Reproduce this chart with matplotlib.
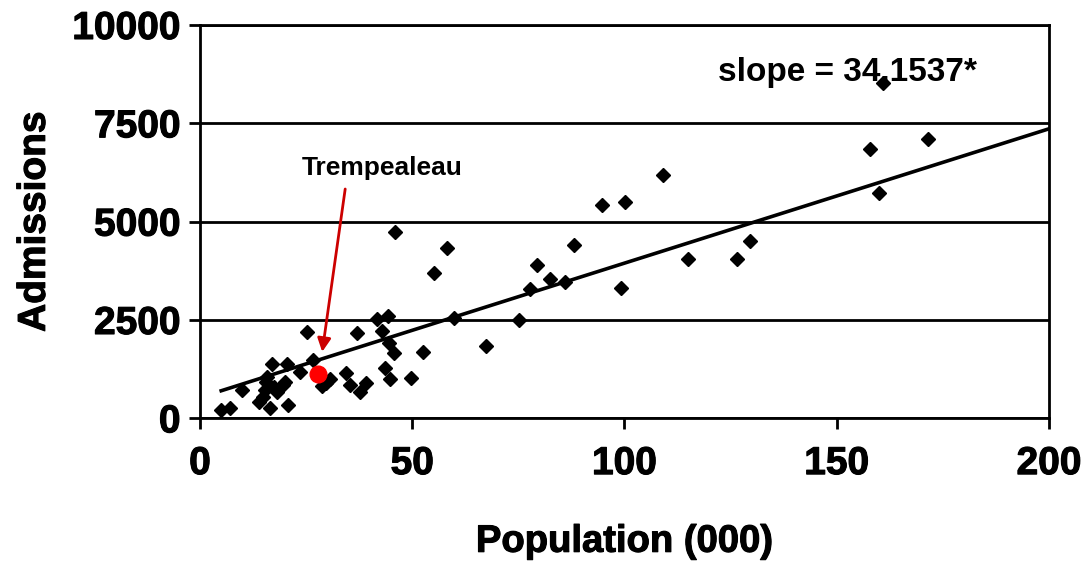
import matplotlib.pyplot as plt
import matplotlib.patheffects as pe
import numpy as np

plt.rcParams['font.family'] = ['Liberation Sans', 'DejaVu Sans']
plt.rcParams['font.weight'] = 'bold'

# county data (population in thousands, admissions)
population = [5.0, 7.1, 9.8, 13.8, 14.9, 15.2, 15.5, 15.8, 16.5, 16.9,
              17.5, 18.1, 19.6, 20.1, 20.5, 20.8, 23.6, 25.1, 26.7, 28.7,
              29.8, 30.6, 34.5, 35.3, 37.0, 37.8, 39.0, 41.7, 42.9, 43.7,
              44.3, 44.6, 44.7, 45.8, 45.9, 49.6, 52.6, 55.1, 58.3, 59.8,
              67.4, 75.2, 77.7, 79.4, 82.4, 86.1, 88.1, 94.7, 99.2, 100.2,
              109.0, 115.0, 126.5, 129.5, 157.9, 160.0, 161.0, 171.5]
admissions = [210, 270, 720, 420, 540, 720, 920, 1060, 254, 1380,
              800, 680, 850, 930, 1380, 340, 1185, 2185, 1483, 810,
              900, 1000, 1144, 850, 2178, 677, 906, 2517, 2225, 1271,
              2601, 1920, 992, 1670, 4730, 1025, 1678, 3690, 4325, 2545,
              1850, 2500, 3280, 3900, 3545, 3460, 4410, 5425, 3320, 5510,
              6187, 4045, 4050, 4509, 6840, 5722, 8535, 7103]

trempealeau = (27.7, 1127)

slope = 34.1537
intercept = 530

x_ticks = [0, 50, 100, 150, 200]
y_ticks = [0, 2500, 5000, 7500, 10000]

heavy = [pe.withStroke(linewidth=0.8, foreground='black')]

fig = plt.figure(figsize=(10.91, 5.65), dpi=100)
ax = fig.add_axes([0.1833, 0.2596, 0.7782, 0.6962])

ax.set_xlim(0, 200)
ax.set_ylim(0, 10000)
ax.set_xticks(x_ticks)
ax.set_yticks(y_ticks)
ax.yaxis.grid(True, color='black', lw=2)
ax.set_axisbelow(True)
for s in ax.spines.values():
    s.set_linewidth(2)
ax.tick_params(axis='both', direction='out', length=8, width=2, labelsize=28)
ax.tick_params(axis='x', pad=12)
ax.tick_params(axis='y', pad=6)
for lab in ax.get_xticklabels() + ax.get_yticklabels():
    lab.set_path_effects(heavy)

# trend line
xl = np.array([min(population), 200])
ax.plot(xl, slope * xl + intercept, color='black', lw=2.6, zorder=2)

ax.plot(population, admissions, 'D', color='black', ms=7, zorder=3)
ax.plot(*trempealeau, 'o', color='#ff0000', ms=12, zorder=4)

ax.text(43, 6365, 'Trempealeau', ha='center', va='center', fontsize=19,
        fontweight='bold')
ax.annotate('', xy=(28.7, 1620), xytext=(34.3, 5900),
            arrowprops=dict(arrowstyle='-|>', color='#cc0000', lw=2,
                            mutation_scale=20))
ax.text(152.5, 8800, 'slope = 34.1537*', ha='center', va='center',
        fontsize=24, fontweight='bold')

ax.set_xlabel('Population (000)', fontsize=27.5, fontweight='bold',
              labelpad=30, path_effects=heavy)
ax.set_ylabel('Admissions', fontsize=28, fontweight='bold', labelpad=14,
              path_effects=heavy)

fig.savefig('out.png', dpi=100)
